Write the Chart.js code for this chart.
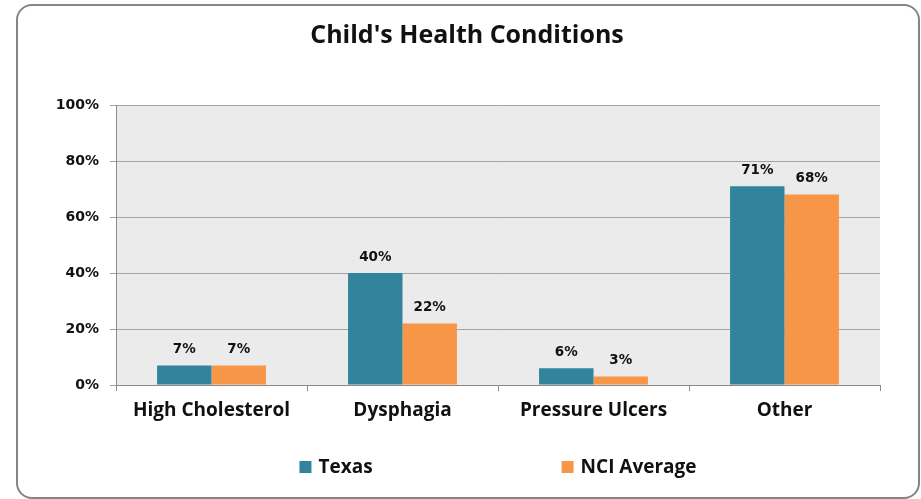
<!DOCTYPE html>
<html>
<head>
<meta charset="utf-8">
<script src="https://cdn.jsdelivr.net/npm/chart.js@4.4.0/dist/chart.umd.min.js"></script>
<style>
  html, body { margin: 0; padding: 0; background: #fff; }
  #wrap { position: relative; width: 921px; height: 499px; }
  #frame {
    position: absolute; left: 16px; top: 4px; width: 900px; height: 491px;
    border: 2px solid #858585; border-radius: 16px;
  }
  #ssChart { position: absolute; left: 0; top: 0; }
</style>
</head>
<body>
<div id="wrap">
  <div id="frame"></div>
  <canvas id="ssChart" width="921" height="499"></canvas>
</div>
<script>
const categories = ['High Cholesterol', 'Dysphagia', 'Pressure Ulcers', 'Other'];
const texas = [7, 40, 6, 71];
const nciAverage = [7, 22, 3, 68];
const yTicks = [0, 20, 40, 60, 80, 100];

const teal = '#31849B';
const orange = '#F79646';
const gridColor = '#a3a3a3';

// plot background + value labels + legend
const extras = {
	id: 'extras',
	beforeDraw(chart) {
		const a = chart.chartArea;
		const c = chart.ctx;
		c.save();
		c.fillStyle = '#ebebeb';
		c.fillRect(a.left, a.top, a.right - a.left, a.bottom - a.top);
		c.restore();
	},
	afterDatasetsDraw(chart) {
		const c = chart.ctx;
		c.save();
		c.font = 'bold 13.5px "DejaVu Sans"';
		c.fillStyle = '#111';
		c.textAlign = 'center';
		c.textBaseline = 'middle';
		chart.data.datasets.forEach((ds, i) => {
			chart.getDatasetMeta(i).data.forEach((bar, j) => {
				c.fillText(Math.round(ds.data[j]) + '%', bar.x, bar.y - 16);
			});
		});
		c.restore();
	},
	afterDraw(chart) {
		const c = chart.ctx;
		const a = chart.chartArea;
		c.save();
		c.font = 'bold 19px "Open Sans"';
		c.textBaseline = 'middle';
		const box = 12, gap = 7, between = 189, y = 467;
		const items = chart.data.datasets.map(ds => ({
			label: ds.label, color: ds.backgroundColor,
			w: box + gap + c.measureText(ds.label).width
		}));
		let total = items.reduce((s, it) => s + it.w, 0) + between * (items.length - 1);
		let x = (a.left + a.right) / 2 - total / 2;
		items.forEach(it => {
			c.fillStyle = it.color;
			c.fillRect(x, y - box / 2, box, box);
			c.fillStyle = '#111';
			c.fillText(it.label, x + box + gap, y + 1);
			x += it.w + between;
		});
		c.restore();
	}
};

const ctx = document.getElementById('ssChart').getContext('2d');
const ssChart = new Chart(ctx, {
	type: 'bar',
	data: {
		labels: categories,
		datasets: [
			{ label: 'Texas', data: texas, backgroundColor: teal, borderWidth: 0 },
			{ label: 'NCI Average', data: nciAverage, backgroundColor: orange, borderWidth: 0 },
		],
	},
	options: {
		responsive: false,
		animation: false,
		categoryPercentage: 0.57,
		barPercentage: 1,
		layout: { padding: { left: 54, right: 41, top: 0, bottom: 0 } },
		plugins: {
			legend: { display: false },
			tooltip: { enabled: false },
			title: {
				display: true,
				text: "Child's Health Conditions",
				color: '#111',
				font: { family: 'Open Sans', weight: 'bold', size: 25 },
				padding: { top: 21, bottom: 54 },
			},
		},
		scales: {
			y: {
				min: 0,
				max: 100,
				afterBuildTicks(scale) {
					scale.ticks = yTicks.map(v => ({ value: v }));
				},
				afterFit(scale) { scale.width = 62; },
				ticks: {
					color: '#111',
					font: { family: 'DejaVu Sans', weight: 'bold', size: 14 },
					padding: 11,
					callback: v => v + '%',
				},
				grid: { color: gridColor, lineWidth: 1, tickLength: 6 },
				border: { color: '#8a8a8a', width: 1 },
			},
			x: {
				afterFit(scale) { scale.height = 114; },
				ticks: {
					color: '#111',
					font: { family: 'Open Sans', weight: 'bold', size: 19 },
					padding: 8,
				},
				grid: {
					offset: true,
					drawOnChartArea: false,
					color: '#8a8a8a',
					tickLength: 6,
				},
				border: { color: '#8a8a8a', width: 1 },
			},
		},
	},
	plugins: [extras],
});
</script>
</body>
</html>
